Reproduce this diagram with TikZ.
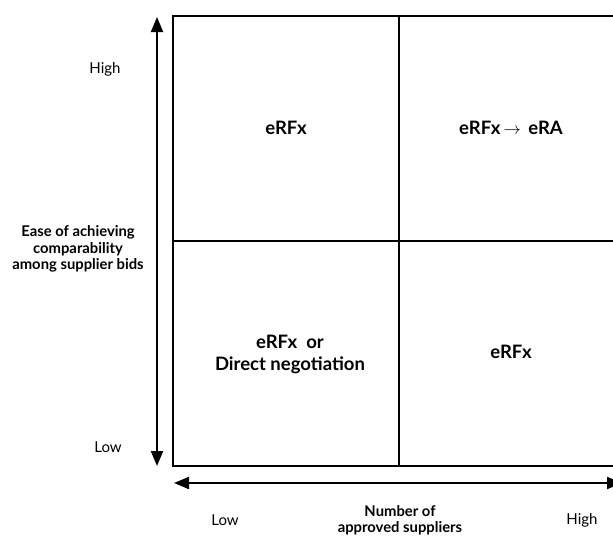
\documentclass[tikz,border=0pt]{standalone}
\usepackage{fontspec}
\setmainfont{Lato}
\usepackage{tikz}
\usetikzlibrary{arrows.meta, positioning}
\tikzset{
  grid/.style={line width=2pt},
  axis/.style={{Triangle[length=15pt,width=12pt]}-{Triangle[length=15pt,width=12pt]}, line width=2pt},
  cell/.style={align=center, font=\fontsize{18.5}{22}\selectfont\bfseries},
  tick/.style={font=\fontsize{15}{18}\selectfont},
  title/.style={align=center, font=\fontsize{14.8}{16.5}\selectfont\bfseries},
}

\begin{document}
\begin{tikzpicture}[x=1pt, y=-1pt]
    \useasboundingbox (0,0) rectangle (613,536);

    % the 2x2 matrix (right border runs off the page)
    \coordinate (nw) at (173,16);
    \coordinate (se) at (630,466);
    \coordinate (mid) at (399,241);
    \draw[grid] (nw) rectangle (se);
    \draw[grid] (mid |- nw) -- (mid |- se);
    \draw[grid] (mid -| nw) -- (mid -| se);

    % quadrant contents
    \node[cell] (tl) at (286,128) {eRFx};
    \node[cell] (tr) at (511,128) {eRFx\,$\rightarrow$\ \,eRA};
    \node[cell] (bl) at (290,354) {eRFx~ or\\Direct negotiation};
    \node[cell] (br) at (511,352) {eRFx};

    % axes
    \coordinate (ytop) at (157,17);
    \coordinate (ybot) at (157,466);
    \coordinate (xleft) at (174,483);
    \coordinate (xright) at (622,483);
    \draw[axis] (ybot) -- (ytop);
    \draw[axis] (xleft) -- (xright);

    \node[tick] (yhigh) at (105,69) {High};
    \node[tick] (ylow) at (108,447) {Low};
    \node[title] (ylab) at (78,249) {Ease of achieving\\comparability\\among supplier bids};

    \node[tick] (xlow) at (225,520) {Low};
    \node[tick] (xhigh) at (582,520) {High};
    \node[title] (xlab) at (400,520) {Number of\\approved suppliers};
\end{tikzpicture}
\end{document}
